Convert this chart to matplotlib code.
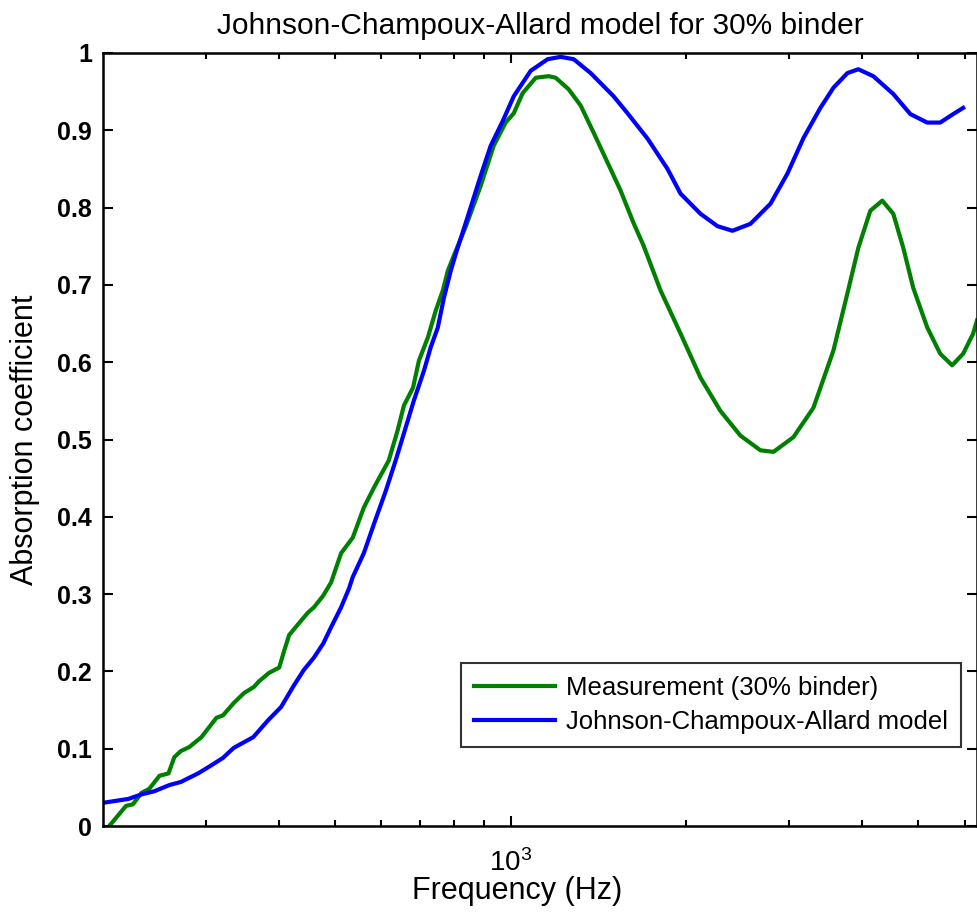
import matplotlib
matplotlib.use("Agg")
import matplotlib.pyplot as plt
from matplotlib.ticker import FixedLocator, FixedFormatter, NullFormatter
import numpy as np

plt.rcParams['font.family'] = ['Liberation Sans', 'DejaVu Sans']

# measured absorption (impedance tube), 30% binder
freq_meas = [205, 219, 225, 233, 240, 250, 259, 265, 272, 281, 295, 313, 321, 335,
             349, 363, 370, 385, 401, 409, 417, 432, 449, 460, 477, 492, 512, 536,
             560, 583, 618, 640, 656, 680, 696, 721, 744, 765, 780, 799, 838, 888,
             935, 980, 1012, 1048, 1104, 1162, 1194, 1257, 1318, 1387, 1466, 1543,
             1624, 1689, 1806, 1955, 2115, 2288, 2476, 2680, 2821, 3052, 3303, 3574,
             3777, 3944, 4135, 4335, 4527, 4709, 4899, 5176, 5448, 5711, 5965, 6205,
             6300]
alpha_meas = [0.000, 0.026, 0.028, 0.043, 0.048, 0.065, 0.068, 0.089, 0.097, 0.102,
              0.115, 0.140, 0.143, 0.159, 0.172, 0.180, 0.187, 0.198, 0.205, 0.227,
              0.247, 0.261, 0.276, 0.283, 0.298, 0.315, 0.353, 0.373, 0.412, 0.438,
              0.473, 0.512, 0.544, 0.567, 0.602, 0.632, 0.667, 0.693, 0.718, 0.738,
              0.776, 0.828, 0.880, 0.910, 0.922, 0.948, 0.968, 0.970, 0.968, 0.953,
              0.932, 0.897, 0.858, 0.822, 0.780, 0.751, 0.693, 0.637, 0.580, 0.537,
              0.505, 0.486, 0.484, 0.503, 0.541, 0.615, 0.689, 0.748, 0.796, 0.809,
              0.792, 0.748, 0.696, 0.645, 0.611, 0.596, 0.611, 0.637, 0.654]

# Johnson-Champoux-Allard prediction
freq_model = [200, 221, 233, 245, 260, 272, 291, 303, 321, 335, 362, 384, 404, 425,
              442, 460, 477, 492, 512, 528, 536, 560, 583, 611, 635, 656, 682, 710,
              729, 750, 768, 789, 808, 847, 888, 924, 969, 1012, 1082, 1157, 1218,
              1282, 1371, 1501, 1586, 1717, 1857, 1955, 2115, 2262, 2399, 2576, 2788,
              2981, 3176, 3395, 3574, 3777, 3944, 4184, 4527, 4842, 5176, 5448, 5735,
              5965]
alpha_model = [0.030, 0.035, 0.041, 0.045, 0.053, 0.057, 0.068, 0.076, 0.088, 0.101,
               0.115, 0.137, 0.154, 0.182, 0.202, 0.218, 0.236, 0.257, 0.283, 0.307,
               0.322, 0.353, 0.391, 0.434, 0.473, 0.508, 0.550, 0.589, 0.619, 0.645,
               0.683, 0.718, 0.744, 0.792, 0.841, 0.880, 0.912, 0.944, 0.977, 0.992,
               0.995, 0.992, 0.974, 0.944, 0.922, 0.889, 0.850, 0.818, 0.792, 0.776,
               0.770, 0.779, 0.805, 0.844, 0.890, 0.929, 0.955, 0.974, 0.979, 0.970,
               0.947, 0.921, 0.910, 0.910, 0.921, 0.929]

fig = plt.figure(figsize=(9.77, 9.18), dpi=100)
ax = fig.add_axes([103 / 977, 92 / 918, 874 / 977, 773 / 918])

ax.plot(freq_meas, alpha_meas, color='#008000', lw=3, label='Measurement (30% binder)')
ax.plot(freq_model, alpha_model, color='#0000ff', lw=3, label='Johnson-Champoux-Allard model')

ax.set_xscale('log')
ax.set_xlim(200, 6300)
ax.set_ylim(0, 1)

# ticks like a matlab box axis
ax.xaxis.set_major_locator(FixedLocator([1000]))
ax.xaxis.set_major_formatter(FixedFormatter([r'$\mathregular{10^3}$']))
minors = [300, 400, 500, 600, 700, 800, 900, 2000, 3000, 4000, 5000, 6000]
ax.xaxis.set_minor_locator(FixedLocator(minors))
ax.xaxis.set_minor_formatter(NullFormatter())
yt = np.round(np.arange(0, 1.01, 0.1), 1)
ax.set_yticks(yt)
ax.set_yticklabels(['%g' % v for v in yt], fontweight='bold')
ax.tick_params(which='both', direction='in', top=True, right=True, width=1.5)
ax.tick_params(which='major', length=7)
ax.tick_params(axis='y', which='major', labelsize=18, pad=8)
ax.tick_params(axis='x', which='major', labelsize=20, pad=17)
ax.tick_params(which='minor', length=4)
for sp in ax.spines.values():
    sp.set_linewidth(1.8)

ax.set_title('Johnson-Champoux-Allard model for 30% binder', fontsize=21.5, pad=14)
ax.set_xlabel('Frequency (Hz)', fontsize=22, labelpad=2)
ax.xaxis.set_label_coords(0.474, -0.065)
ax.set_ylabel('Absorption coefficient', fontsize=22, labelpad=12)

leg = ax.legend(loc='lower right', bbox_to_anchor=(0.982, 0.102), fontsize=18.5,
                handlelength=3.15, handletextpad=0.45, frameon=True, fancybox=False,
                borderpad=0.5, labelspacing=0.4, borderaxespad=0)
leg.get_frame().set_edgecolor('black')
leg.get_frame().set_linewidth(1.5)

fig.savefig('out.png', dpi=100)
